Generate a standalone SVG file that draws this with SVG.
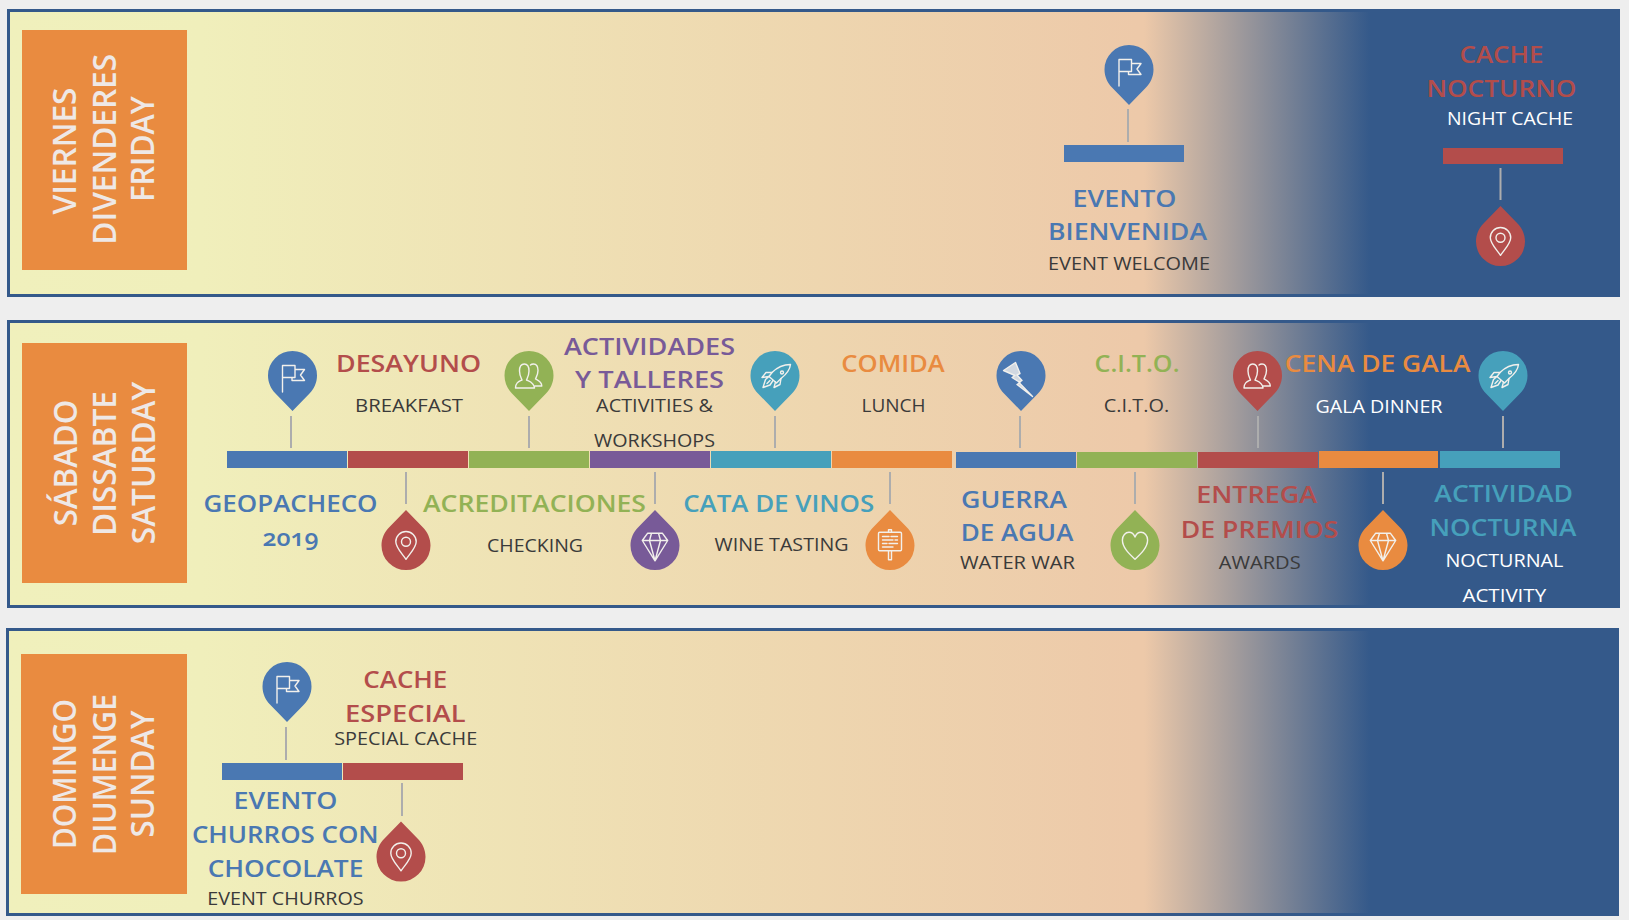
<svg xmlns="http://www.w3.org/2000/svg" xmlns:xlink="http://www.w3.org/1999/xlink" width="1629" height="920" viewBox="0 0 1629 920">
<style>
text{font-family:"Open Sans","Liberation Sans",sans-serif;text-anchor:middle}
.t{font-size:24px;font-weight:600}
.s{font-size:19px;font-weight:400;fill:#3a3a3a}
.w{fill:#fff}
.d{font-size:32px;font-weight:600;fill:#eee8e6}
.blue{fill:#4a78b2}.red{fill:#b34d4b}.green{fill:#92b255}.purple{fill:#785a98}.teal{fill:#46a0bb}.orange{fill:#e98b40}
.panel{fill:url(#bg);stroke:#34598a;stroke-width:3}
.day{fill:#e98b40}
.ic{fill:none;stroke:#f2f0ec;stroke-width:1.4;stroke-linejoin:round;stroke-linecap:round}
#connectors line{stroke:#adadad;stroke-width:2}
</style>
<defs>
<linearGradient id="bg" gradientUnits="userSpaceOnUse" x1="7" y1="0" x2="1620" y2="0">
<stop offset="0" stop-color="#f0f0bc"/><stop offset="0.12" stop-color="#f0efbb"/><stop offset="0.7" stop-color="#edc9a9"/><stop offset="0.705" stop-color="#edc9a9"/><stop offset="0.845" stop-color="#34598a"/><stop offset="1" stop-color="#34598a"/>
</linearGradient>
<path id="pin" d="M0 35.5L-17 18C-21.5 13.5-24.5 7-24.5 0A24.5 24.5 0 1 1 24.5 0C24.5 7 21.5 13.5 17 18Z"/>
<path id="drop" d="M0-35.5L-17-18C-21.5-13.5-24.5-7-24.5 0A24.5 24.5 0 1 0 24.5 0C24.5-7 21.5-13.5 17-18Z"/>
<g id="i-flag" class="ic"><path d="M-10 16.5V-10H2.5V2H-10M2.5-6H12L8-.5L12 5H-.5V2"/></g>
<g id="i-people" class="ic"><path d="M-13.5 12.5C-13.5 7-10 6-7 4.5C-7.5 3-9.5 0-9.5-4.5C-9.5-9-8-11.5-4.7-11.5C-1.5-11.5 0-9 0-4.5C0 0-2 3-2.5 4.5C.5 6 5 7 5.5 12.5Z"/><path d="M1.5-10.5C2.5-11.5 3.5-11.5 4.5-11.5C7.5-11.5 9-9 9-5C9-1 7 2 6.5 3.5C9 5 12.5 6 12.8 10.5L6 10.5"/></g>
<g id="i-rocket" class="ic"><path d="M15.5-11C9-11 2-8-3-3L-6 1L1.5 7.5L6 3C11-1 15-6 15.5-11Z"/><circle cx="7" cy="-3" r="1.5"/><path d="M-3-3L-9-3L-13 2L-6 1M6 3L5 9L-1 12L.5 6.5M-6 1L-9.5 4L-12 12L-5 9.5L-2 5M-8 8L-5 5"/></g>
<path id="i-bolt" class="ic" fill-opacity=".8" style="fill:#f2f0ec" d="M-17.5-5L-5.5-13L-1-2L-4-.5L1 5L-2 7L11.5 21L-4 9L-1 7L-9 2L-6 0Z"/>
<g id="i-diamond" class="ic"><path d="M-7.3-12.3H7.3L12.7-5L0 15.3L-12.7-5ZM-12.7-5H12.7M-3.5-12.3L-5.5-5L0 15.3L5.5-5L3.5-12.3"/></g>
<g id="i-sign" class="ic"><rect x="-11.5" y="-13.3" width="23" height="18.6" rx="1.2"/><path d="M-1.5 5.3V14.3H1.5V5.3M-1.5-13.3V-15.7H1.5V-13.3M-7.5-9H-1M1-9H7.5M-7.5-5.5H3M5-5.5H7.5M-7.5-2H-3M-1-2H7.5M-7.5 1.5H3"/></g>
<g id="i-place" class="ic"><path d="M0 13.8C-4 8-10.2 2-10.2-3.8A10.2 10.2 0 1 1 10.2-3.8C10.2 2 4 8 0 13.8Z"/><circle cx="0" cy="-3.8" r="4.5"/></g>
<g id="i-heart" class="ic"><path d="M0 13.8C-6 8-12.6 2-12.6-5.5C-12.6-10-9.5-13.2-6-13.2C-3-13.2-1-11 0-8.5C1-11 3-13.2 6-13.2C9.5-13.2 12.6-10 12.6-5.5C12.6 2 6 8 0 13.8Z"/></g>
</defs>
<rect width="1629" height="920" fill="#eeeeee"/>
<g id="panels">
<rect class="panel" x="8.5" y="10.5" width="1610" height="285"/>
<rect class="panel" x="8.5" y="321.5" width="1610" height="285"/>
<rect class="panel" x="7.5" y="629.5" width="1610" height="285"/>
</g>
<g id="connectors">
<line x1="1128" y1="109" x2="1128" y2="142"/><line x1="1500.5" y1="168" x2="1500.5" y2="200"/>
<line x1="291" y1="416" x2="291" y2="448"/><line x1="406" y1="472" x2="406" y2="504"/><line x1="529" y1="416" x2="529" y2="448"/><line x1="655" y1="472" x2="655" y2="504"/><line x1="775" y1="416" x2="775" y2="448"/><line x1="890" y1="472" x2="890" y2="504"/><line x1="1020" y1="416" x2="1020" y2="448"/><line x1="1135" y1="472" x2="1135" y2="504"/><line x1="1258" y1="416" x2="1258" y2="448"/><line x1="1383" y1="472" x2="1383" y2="504"/><line x1="1503" y1="416" x2="1503" y2="448"/>
<line x1="286" y1="727" x2="286" y2="760"/><line x1="402" y1="783" x2="402" y2="816"/>
</g>
<g id="day-friday"><rect class="day" x="22" y="30" width="165" height="240"/>
<text class="d" transform="translate(76 151) rotate(-90)" textLength="127" lengthAdjust="spacingAndGlyphs">VIERNES</text>
<text class="d" transform="translate(115.7 149.3) rotate(-90)" textLength="190.7" lengthAdjust="spacingAndGlyphs">DIVENDERES</text>
<text class="d" transform="translate(154.3 149) rotate(-90)" textLength="105.7" lengthAdjust="spacingAndGlyphs">FRIDAY</text></g>
<g id="day-saturday"><rect class="day" x="22" y="343" width="165" height="240"/>
<text class="d" transform="translate(76.5 463) rotate(-90)" textLength="126.7" lengthAdjust="spacingAndGlyphs">SÁBADO</text>
<text class="d" transform="translate(115.8 463.5) rotate(-90)" textLength="145" lengthAdjust="spacingAndGlyphs">DISSABTE</text>
<text class="d" transform="translate(155 463) rotate(-90)" textLength="162.3" lengthAdjust="spacingAndGlyphs">SATURDAY</text></g>
<g id="day-sunday"><rect class="day" x="21" y="654" width="166" height="240"/>
<text class="d" transform="translate(76 774) rotate(-90)" textLength="150" lengthAdjust="spacingAndGlyphs">DOMINGO</text>
<text class="d" transform="translate(115.7 774.5) rotate(-90)" textLength="161" lengthAdjust="spacingAndGlyphs">DIUMENGE</text>
<text class="d" transform="translate(154.3 774) rotate(-90)" textLength="127" lengthAdjust="spacingAndGlyphs">SUNDAY</text></g>

<g id="evento-bienvenida"><rect class="blue" x="1064" y="145" width="120" height="17"/><use href="#pin" class="blue" x="1129" y="69.5"/><use href="#i-flag" x="1129" y="69.5"/>
<text class="t blue" x="1124.5" y="207" textLength="104" lengthAdjust="spacingAndGlyphs">EVENTO</text><text class="t blue" x="1127.5" y="240" textLength="159" lengthAdjust="spacingAndGlyphs">BIENVENIDA</text><text class="s" x="1129" y="270" textLength="162" lengthAdjust="spacingAndGlyphs">EVENT WELCOME</text></g>
<g id="cache-nocturno"><rect class="red" x="1443" y="148" width="120" height="16"/><use href="#drop" class="red" x="1500.5" y="241.5"/><use href="#i-place" x="1500.5" y="241.5"/>
<text class="t red" x="1501.5" y="63" textLength="84" lengthAdjust="spacingAndGlyphs">CACHE</text><text class="t red" x="1501.4" y="96.7" textLength="150" lengthAdjust="spacingAndGlyphs">NOCTURNO</text><text class="s w" x="1510" y="125" textLength="126" lengthAdjust="spacingAndGlyphs">NIGHT CACHE</text></g>

<g id="geopacheco"><rect class="blue" x="227" y="451" width="120" height="17"/><use href="#pin" class="blue" x="292.5" y="375.5"/><use href="#i-flag" x="292.5" y="375.5"/>
<text class="t blue" x="290.5" y="512" textLength="174" lengthAdjust="spacingAndGlyphs">GEOPACHECO</text><text class="t blue" x="290.5" y="546" textLength="56" lengthAdjust="spacingAndGlyphs" style="font-feature-settings:'onum'">2019</text></g>
<g id="desayuno"><rect class="red" x="348" y="451" width="120" height="17"/><use href="#drop" class="red" x="406" y="545.5"/><use href="#i-place" x="406" y="545.5"/>
<text class="t red" x="408.5" y="372" textLength="145" lengthAdjust="spacingAndGlyphs">DESAYUNO</text><text class="s" x="409" y="412" textLength="108" lengthAdjust="spacingAndGlyphs">BREAKFAST</text></g>
<g id="acreditaciones"><rect class="green" x="469" y="451" width="120" height="17"/><use href="#pin" class="green" x="529" y="375.5"/><use href="#i-people" x="529" y="375.5"/>
<text class="t green" x="534.5" y="512" textLength="223" lengthAdjust="spacingAndGlyphs">ACREDITACIONES</text><text class="s" x="535" y="552" textLength="96" lengthAdjust="spacingAndGlyphs">CHECKING</text></g>
<g id="actividades"><rect class="purple" x="590" y="451" width="120" height="17"/><use href="#drop" class="purple" x="655" y="545.5"/><use href="#i-diamond" x="655" y="545.5"/>
<text class="t purple" x="649.5" y="354.7" textLength="171" lengthAdjust="spacingAndGlyphs">ACTIVIDADES</text><text class="t purple" x="649.6" y="388" textLength="149" lengthAdjust="spacingAndGlyphs">Y TALLERES</text><text class="s" x="654.6" y="412" textLength="117" lengthAdjust="spacingAndGlyphs">ACTIVITIES &amp;</text><text class="s" x="654.5" y="446.7" textLength="121" lengthAdjust="spacingAndGlyphs">WORKSHOPS</text></g>
<g id="cata"><rect class="teal" x="711" y="451" width="120" height="17"/><use href="#pin" class="teal" x="775" y="375.5"/><use href="#i-rocket" x="775" y="375.5"/>
<text class="t teal" x="778.7" y="511.7" textLength="191" lengthAdjust="spacingAndGlyphs">CATA DE VINOS</text><text class="s" x="781.6" y="550.7" textLength="134" lengthAdjust="spacingAndGlyphs">WINE TASTING</text></g>
<g id="comida"><rect class="orange" x="832" y="451" width="120" height="17"/><use href="#drop" class="orange" x="890" y="545.5"/><use href="#i-sign" x="890" y="545.5"/>
<text class="t orange" x="893" y="371.7" textLength="103.5" lengthAdjust="spacingAndGlyphs">COMIDA</text><text class="s" x="893.5" y="412" textLength="64" lengthAdjust="spacingAndGlyphs">LUNCH</text></g>
<g id="guerra"><rect class="blue" x="956" y="452" width="120" height="16"/><use href="#pin" class="blue" x="1021" y="375.5"/><use href="#i-bolt" x="1021" y="375.5"/>
<text class="t blue" x="1014" y="508" textLength="106" lengthAdjust="spacingAndGlyphs">GUERRA</text><text class="t blue" x="1017" y="541" textLength="112.6" lengthAdjust="spacingAndGlyphs">DE AGUA</text><text class="s" x="1017.5" y="569" textLength="115" lengthAdjust="spacingAndGlyphs">WATER WAR</text></g>
<g id="cito"><rect class="green" x="1077" y="452" width="120" height="16"/><use href="#drop" class="green" x="1135" y="545.5"/><use href="#i-heart" x="1135" y="545.5"/>
<text class="t green" x="1137" y="371.7" textLength="85" lengthAdjust="spacingAndGlyphs">C.I.T.O.</text><text class="s" x="1136.5" y="412" textLength="65.5" lengthAdjust="spacingAndGlyphs">C.I.T.O.</text></g>
<g id="entrega"><rect class="red" x="1198" y="452" width="120" height="16"/><use href="#pin" class="red" x="1257.5" y="375.5"/><use href="#i-people" x="1257.5" y="375.5"/>
<text class="t red" x="1256.7" y="503" textLength="121" lengthAdjust="spacingAndGlyphs">ENTREGA</text><text class="t red" x="1259.6" y="537.7" textLength="157.6" lengthAdjust="spacingAndGlyphs">DE PREMIOS</text><text class="s" x="1259.7" y="569" textLength="82" lengthAdjust="spacingAndGlyphs">AWARDS</text></g>
<g id="cena"><rect class="orange" x="1319" y="451" width="119" height="17"/><use href="#drop" class="orange" x="1383" y="545.5"/><use href="#i-diamond" x="1383" y="545.5"/>
<text class="t orange" x="1377.6" y="371.7" textLength="185.6" lengthAdjust="spacingAndGlyphs">CENA DE GALA</text><text class="s w" x="1379" y="413" textLength="127" lengthAdjust="spacingAndGlyphs">GALA DINNER</text></g>
<g id="actividad"><rect class="teal" x="1440" y="451" width="120" height="17"/><use href="#pin" class="teal" x="1503" y="375.5"/><use href="#i-rocket" x="1503" y="375.5"/>
<text class="t teal" x="1503.7" y="501.7" textLength="138.7" lengthAdjust="spacingAndGlyphs">ACTIVIDAD</text><text class="t teal" x="1503" y="535.7" textLength="147" lengthAdjust="spacingAndGlyphs">NOCTURNA</text><text class="s w" x="1504.4" y="566.7" textLength="118" lengthAdjust="spacingAndGlyphs">NOCTURNAL</text><text class="s w" x="1504.3" y="601.7" textLength="83.7" lengthAdjust="spacingAndGlyphs">ACTIVITY</text></g>

<g id="evento-churros"><rect class="blue" x="222" y="763" width="120" height="17"/><use href="#pin" class="blue" x="287" y="686.5"/><use href="#i-flag" x="287" y="686.5"/>
<text class="t blue" x="285.5" y="809" textLength="104" lengthAdjust="spacingAndGlyphs">EVENTO</text><text class="t blue" x="285.3" y="842.7" textLength="186.7" lengthAdjust="spacingAndGlyphs">CHURROS CON</text><text class="t blue" x="285.5" y="876.7" textLength="155.7" lengthAdjust="spacingAndGlyphs">CHOCOLATE</text><text class="s" x="285.5" y="905" textLength="156.4" lengthAdjust="spacingAndGlyphs">EVENT CHURROS</text></g>
<g id="cache-especial"><rect class="red" x="343" y="763" width="120" height="17"/><use href="#drop" class="red" x="401" y="857"/><use href="#i-place" x="401" y="857"/>
<text class="t red" x="405.3" y="687.7" textLength="84" lengthAdjust="spacingAndGlyphs">CACHE</text><text class="t red" x="405.3" y="721.7" textLength="120.7" lengthAdjust="spacingAndGlyphs">ESPECIAL</text><text class="s" x="405.7" y="745" textLength="143" lengthAdjust="spacingAndGlyphs">SPECIAL CACHE</text></g>
</svg>
